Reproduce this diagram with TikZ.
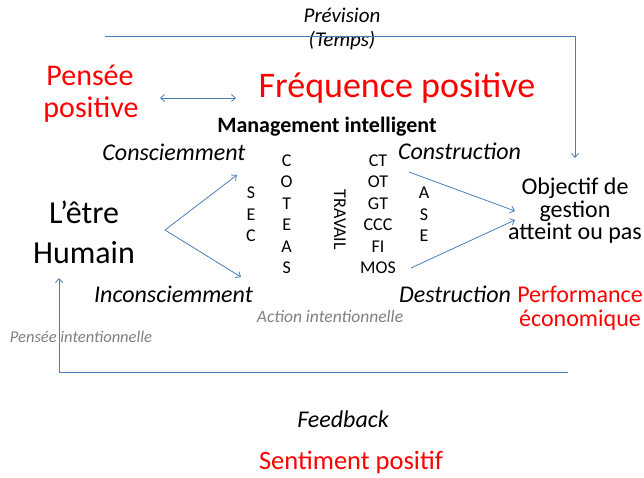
\documentclass[tikz,border=0pt]{standalone}
\usepackage{fontspec}
\setmainfont{Carlito}
\usetikzlibrary{arrows.meta}
\definecolor{lnblue}{RGB}{74,126,187}
\definecolor{txtred}{RGB}{255,0,0}
\definecolor{txtgray}{RGB}{128,128,128}
\newcommand{\fsz}[1]{\fontsize{#1}{#1}\selectfont}
\begin{document}
\begin{tikzpicture}[x=1pt,y=-1pt,
  lbl/.style={inner sep=0pt, anchor=base},
  conn/.style={draw=lnblue, line width=0.8pt, -{Straight Barb[length=4pt,width=7pt]}},
  dconn/.style={draw=lnblue, line width=0.8pt, {Straight Barb[length=4pt,width=7pt]}-{Straight Barb[length=4pt,width=7pt]}},
  redbig/.style={lbl, text=txtred},
  itl/.style={lbl, font=\fsz{24}\itshape},
  small/.style={lbl, font=\fsz{18}},
  grayit/.style={lbl, text=txtgray}
]
\useasboundingbox (0,0) rectangle (644,477);

% top texts
\node[lbl, font=\fsz{21}\itshape] (prev) at (342,22) {Prévision};
\node[lbl, font=\fsz{21}\itshape] (temps) at (342,46) {(Temps)};
\node[redbig, font=\fsz{30}] (pense1) at (90,85) {Pensée};
\node[redbig, font=\fsz{30}] (pense2) at (91,117) {positive};
\node[redbig, font=\fsz{36}] (freq) at (397,97) {Fréquence positive};
\node[lbl, font=\fsz{22}\bfseries] (mgmt) at (327,132) {Management intelligent};

\node[itl] (consc) at (174,160) {Consciemment};
\node[itl] (constr) at (459.5,159) {Construction};
\node[itl] (inconsc) at (173.5,302) {Inconsciemment};
\node[itl] (destr) at (455,302) {Destruction};

% human
\node[lbl, font=\fsz{32}] (etre) at (84,223) {L’être};
\node[lbl, font=\fsz{32}] (humain) at (84,263) {Humain};

% SEC
\node[small] (s1) at (251,198) {S};
\node[small] (e1) at (251,220) {E};
\node[small] (c1) at (251,241.5) {C};
% COTEAS
\node[small] (co1) at (286.7,166) {C};
\node[small] (co2) at (286.7,187.5) {O};
\node[small] (co3) at (286.7,209) {T};
\node[small] (co4) at (286.7,230.5) {E};
\node[small] (co5) at (286.7,252) {A};
\node[small] (co6) at (286.7,273.5) {S};
% TRAVAIL
\node[inner sep=0pt, font=\fsz{18}, rotate=-90] (trav) at (340,220) {TRAVAIL};
% CT column
\node[small] (ct) at (378,166) {CT};
\node[small] (ot) at (378,187.5) {OT};
\node[small] (gt) at (378,209) {GT};
\node[small] (ccc) at (378,230.5) {CCC};
\node[small] (fi) at (378,252) {FI};
\node[small] (mos) at (378,273.5) {MOS};
% ASE
\node[small] (a2) at (424,198) {A};
\node[small] (s2) at (424,220) {S};
\node[small] (e2) at (424,241.5) {E};

% objective
\node[lbl, font=\fsz{24}] (obj1) at (575,194) {Objectif de};
\node[lbl, font=\fsz{24}] (obj2) at (575,217) {gestion};
\node[lbl, font=\fsz{24}] (obj3) at (575,239) {atteint ou pas};

\node[redbig, font=\fsz{24}] (perf1) at (580,302) {Performance};
\node[redbig, font=\fsz{24}] (perf2) at (580,326) {économique};

\node[grayit, font=\fsz{17.5}\itshape] (action) at (330,322) {Action intentionnelle};
\node[grayit, font=\fsz{16.5}\itshape] (pint) at (81,342) {Pensée intentionnelle};

\node[lbl, font=\fsz{24}\itshape] (feed) at (343,427) {Feedback};
\node[redbig, font=\fsz{26.5}] (sent) at (351,469.5) {Sentiment positif};

% connector end points
\coordinate (prevL) at (105,36);
\coordinate (objTop) at (575,158);
\coordinate (ppR) at (160,98);
\coordinate (fpL) at (236,98);
\coordinate (hv) at (165,230);
\coordinate (cscTip) at (237,175);
\coordinate (incTip) at (241,277);
\coordinate (ctEnd) at (409,172);
\coordinate (objIn1) at (515,211);
\coordinate (mosEnd) at (411,268);
\coordinate (objIn2) at (515,220);
\coordinate (fbR) at (568,372);
\coordinate (humBot) at (59,278);

\draw[conn] (prevL) -| (objTop);
\draw[dconn] (ppR) -- (fpL);
\draw[conn] (hv) -- (cscTip);
\draw[conn] (hv) -- (incTip);
\draw[conn] (ctEnd) -- (objIn1);
\draw[conn] (mosEnd) -- (objIn2);
\draw[conn] (fbR) -| (humBot);
\end{tikzpicture}
\end{document}
